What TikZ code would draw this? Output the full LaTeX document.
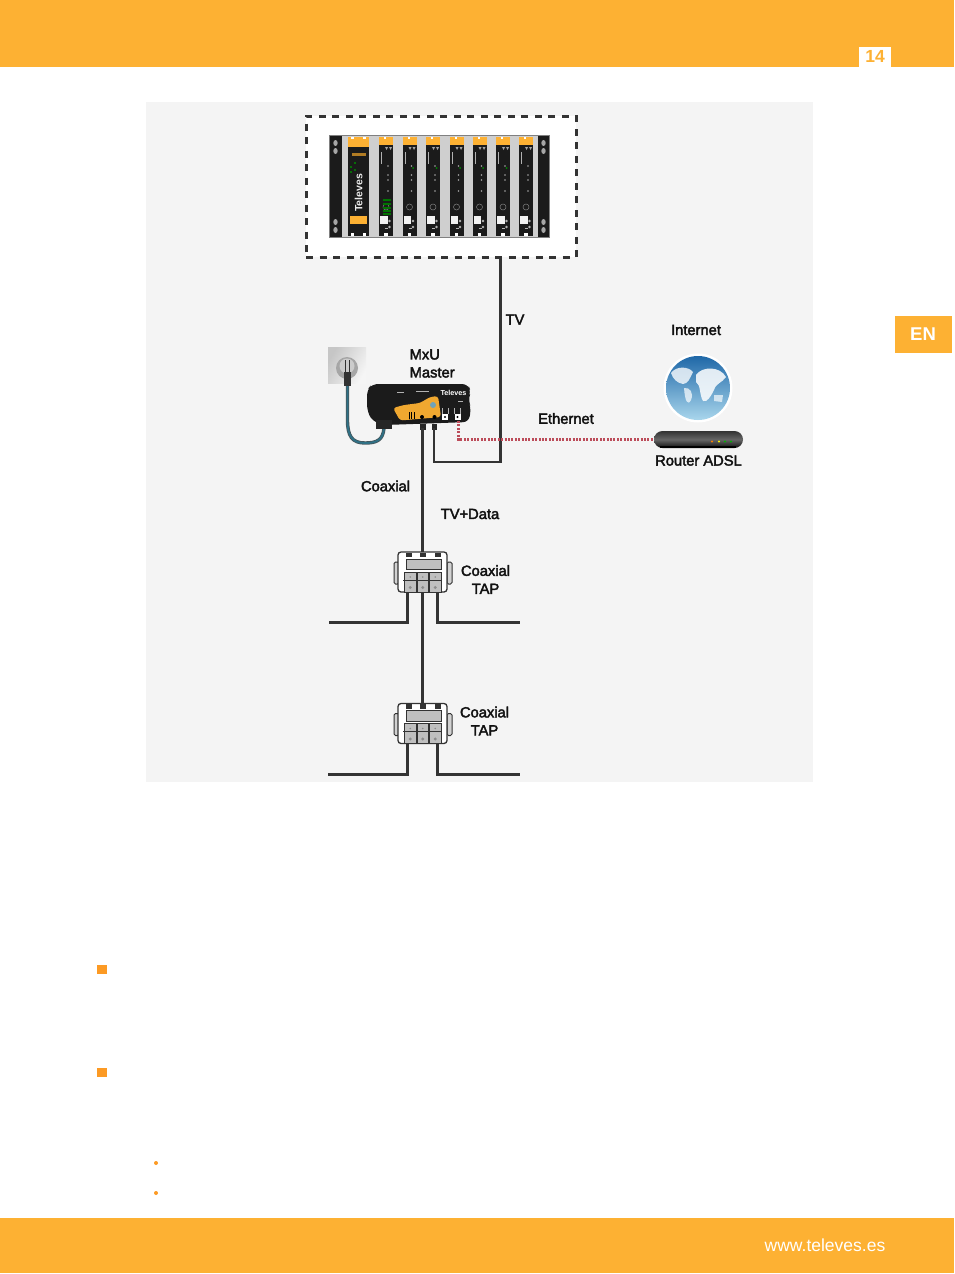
\documentclass[tikz,border=0pt]{standalone}
\usepackage{fontspec}
\setmainfont{Liberation Sans}
\newfontfamily\lab[FakeBold=2.6]{Liberation Sans}
\usetikzlibrary{shapes.misc,calc}
\definecolor{bar}{HTML}{FDB133}
\definecolor{panel}{HTML}{F4F4F4}
\definecolor{ink}{HTML}{111111}
\definecolor{wire}{HTML}{333333}
\definecolor{modgray}{HTML}{CFCFCF}
\definecolor{rackblack}{HTML}{1B1B1B}
\definecolor{bul}{HTML}{FC9A24}
\definecolor{cablecol}{HTML}{2F7186}
\definecolor{cableedge}{HTML}{45565C}
\definecolor{ethcol}{HTML}{BC4C5A}
\definecolor{seatop}{HTML}{1F68A8}
\definecolor{seamid}{HTML}{5AA5DB}
\definecolor{seabot}{HTML}{A9D6EC}
\tikzset{
  lbl/.style={font=\lab\fontsize{14.7}{16}\selectfont,text=ink,inner sep=0pt,align=center},
  wireline/.style={draw=wire,line width=2.2pt},
  tapbody/.style={draw=wire,line width=1.3pt,fill=white,rounded corners=3pt,minimum width=49pt,minimum height=40pt,inner sep=0pt},
  dashbox/.style={draw=wire,line width=3pt,fill=white,dash pattern=on 7pt off 6.5pt,minimum width=270pt,minimum height=141pt,inner sep=0pt},
}
\begin{document}
\begin{tikzpicture}[x=1pt,y=-1pt]
\useasboundingbox (0,0) rectangle (954,1274);
\fill[white] (0,0) rectangle (954,1274);
% page furniture
\fill[bar] (0,0) rectangle (954,66.5);
\fill[bar] (0,1217.5) rectangle (954,1272.5);
\node[fill=white,text=bar,font=\bfseries\fontsize{17.5}{18}\selectfont,minimum width=32pt,minimum height=20pt,inner sep=0pt] (page) at (875,56.5) {14};
\node[fill=bar,text=white,font=\bfseries\fontsize{18.5}{20}\selectfont,minimum width=57pt,minimum height=37pt,inner sep=0pt] (lang) at (923,334.5) {EN};
\node[anchor=east,text=white,font=\fontsize{17.5}{18}\selectfont,inner sep=0pt] (web) at (885.5,1245) {www.televes.es};
\fill[bul] (97,964.5) rectangle (106.5,974);
\fill[bul] (97,1067.5) rectangle (106.5,1077);
\fill[bul] (156,1163) circle (2pt);
\fill[bul] (156,1193) circle (2pt);
% panel
\fill[panel] (146,102) rectangle (813,781.5);
% headend
\node[dashbox] (head) at (441,186.5) {};
\fill[modgray] (329,135) rectangle (549,237);
\draw[gray,line width=.8pt] (329,135) rectangle (549,237);
\fill[rackblack] (330,135.5) rectangle (342,236.5);
\fill[rackblack] (538,135.5) rectangle (549,236.5);
\foreach \ex in {335.5,543.5}{
  \foreach \ey in {143,151,222,230}{\fill[gray!70] (\ex,\ey) ellipse (2.2pt and 3pt);}
}
% first module
\fill[rackblack] (348,137) rectangle (369,236);
\fill[bar] (348,137) rectangle (369,146.5);
\fill[bar] (350,216) rectangle (367,224);
\fill[white] (351,233) rectangle (354,236);
\fill[white] (363,233) rectangle (366,236);
\fill[white] (351,137) rectangle (354,139);
\fill[white] (363,137) rectangle (366,139);
\fill[bar!70!black] (352,153) rectangle (366,155.5);
\foreach \p in {(351,167),(355,163),(351,172),(355,170)}{\fill[green!55!black] \p circle (1.1pt);}
\node[rotate=90,text=white!85!gray,font=\bfseries\fontsize{10.5}{11}\selectfont,inner sep=0pt] (brand) at (358.5,193) {Televes};
% amplifier modules
\foreach \mx in {379,402.5,426,449.5,472.5,496,519}{
  \fill[rackblack] (\mx,136.5) rectangle ++(14,99.5);
  \fill[bar] (\mx,136.5) rectangle ++(14,8.5);
  \fill[white] (\mx+5,137) rectangle ++(2,1.5);
  \fill[white!90!gray] (\mx+1,216) rectangle ++(7.5,8);
  \fill[white] (\mx+5,233) rectangle ++(3.5,3);
  \draw[gray,line width=.5pt] (\mx+7,207) circle (3pt);
  \foreach \dy in {221,227}{\fill[gray!60] (\mx+10.5,\dy) circle (1.3pt);}
  \foreach \dy in {166,175,180,191}{\fill[gray!70] (\mx+9,\dy) circle (.9pt);}
  \fill[gray!70] (\mx+6,147) -- ++(3,0) -- ++(-1.5,3) -- cycle;
  \fill[gray!70] (\mx+10,147) -- ++(3,0) -- ++(-1.5,3) -- cycle;
  \fill[gray!60] (\mx+2,152) rectangle ++(1,12);
  \fill[gray!60] (\mx+6,228) rectangle ++(3,1);
}
\foreach \mx in {402.5,426,449.5,472.5,496}{\fill[green!55!black] (\mx+10.5,168) circle (1pt);}
\foreach \dy in {199,203,207,210,213}{\fill[green!45!black] (383,\dy) rectangle ++(8,1.6);}
% socket
\node[minimum width=38pt,minimum height=36pt,inner sep=0pt,left color=gray!45,right color=gray!8,shading angle=60] (socket) at (347,365) {};
\fill[gray!70] (347,368) circle (11pt);
\fill[gray!40] (347,366) circle (7.5pt);
\fill[wire] (344.5,360) rectangle (346,372);
\fill[wire] (348.5,360) rectangle (350,372);
\fill[wire] (344,372) rectangle (351,386);
% power cable
\coordinate (plugend) at (347.5,386);
\coordinate (mains) at (384,428);
\draw[draw=cableedge,line width=3.4pt] (plugend) -- (347.5,420) .. controls (347.5,436) and (352,443) .. (365,443) .. controls (377,443) and (383,440) .. (mains);
\draw[draw=cablecol,line width=1.8pt] (plugend) -- (347.5,420) .. controls (347.5,436) and (352,443) .. (365,443) .. controls (377,443) and (383,440) .. (mains);
% MxU master
\fill[rackblack,rounded corners=6pt] (367,390) -- (372,384) -- (468,384) -- (471,392) -- (468,400) -- (471,407) -- (469,422) -- (385,425) -- (372,421) -- (367,410) -- cycle;
\fill[black!85] (376,420) rectangle (392,429);
\node[inner sep=0pt,minimum width=0pt] (master) at (422,404) {};
\fill[bar!95!black,rounded corners=3pt] (393,408) -- (404,405) -- (420,403) -- (430,397) -- (438,396) -- (441,417) -- (400,420.5) -- cycle;
\fill[gray!60!cyan] (433,405) circle (3pt);
\foreach \tx in {408.5,411,413.5}{\fill[black] (\tx,412) rectangle ++(1.3,6.5);}
\foreach \tx in {422,434.5}{\fill[black] (\tx,417) circle (2pt);}
\foreach \tx in {445,457.5}{\fill[white] (\tx-3,414) rectangle ++(6,6);\fill[black] (\tx,417) circle (1.2pt);\draw[white!70!black,line width=.4pt] (\tx-3,414) -- (\tx-3,408);\draw[white!70!black,line width=.4pt] (\tx+3,414) -- (\tx+3,408);}
\node[text=white,font=\bfseries\fontsize{7.2}{8}\selectfont,inner sep=0pt] (mbrand) at (453.5,392.5) {Televes};
\foreach \tx/\ty/\tl in {397/392/7,416/391/13,458/401/5}{\fill[gray!60] (\tx,\ty) rectangle ++(\tl,1);}
\fill[black!85] (419.5,424) rectangle (425.5,430);
\fill[black!85] (431.5,424) rectangle (437,430);
\coordinate (coaxout) at (422.5,428);
\coordinate (tvin) at (434.2,428);
\coordinate (ethport) at (458.5,421);
% taps
\foreach \nm/\cy in {tapA/572,tapB/723.5}{
  \fill[gray!35,draw=wire,line width=1pt,rounded corners=1.5pt] (394,\cy-10) rectangle ++(5,22);
  \fill[gray!35,draw=wire,line width=1pt,rounded corners=1.5pt] (447,\cy-10) rectangle ++(5,22);
  \node[tapbody] (\nm) at (422.5,\cy) {};
  \fill[gray!50,draw=wire,line width=.8pt] (406,\cy-13) rectangle ++(35,10.5);
  \foreach \tx in {404.5,417,429.5}{
    \fill[gray!50,draw=wire,line width=1pt] (\tx,\cy) rectangle ++(11.5,20);
    \fill[gray!90] (\tx+5.7,\cy+15.5) circle (1.6pt);
    \fill[gray!90] (\tx+5.7,\cy+5) circle (.9pt);
  }
  \draw[wire,line width=1.2pt] (403,\cy+8.3) -- (442,\cy+8.3);
  \foreach \tx in {406,420,435}{\fill[wire] (\tx,\cy-19.5) rectangle ++(5.5,4.5);}
  \coordinate (\nm L) at (407.5,\cy+20);
  \coordinate (\nm R) at (437.5,\cy+20);
  \coordinate (\nm T) at (422.5,\cy-20);
  \coordinate (\nm B) at (422.5,\cy+20);
}
\coordinate (endAL) at (329,622.5);
\coordinate (endAR) at (520,622.5);
\coordinate (endBL) at (328,774.5);
\coordinate (endBR) at (520,774.5);
% router and globe
\node[circle,minimum size=69pt,inner sep=0pt,fill=white] (globehalo) at (698,388) {};
\begin{scope}
  \clip (698,388) circle (32pt);
  \shade[top color=seatop,middle color=seamid,bottom color=seabot] (666,356) rectangle (730,420);
  \fill[white,opacity=.78] (671,373) .. controls (676,366) and (688,366) .. (693,372) .. controls (690,378) and (688,384) .. (683,384) .. controls (677,383) and (673,379) .. (671,373) -- cycle;
  \fill[white,opacity=.7] (684,388) .. controls (690,387) and (694,393) .. (691,400) .. controls (688,406) and (685,402) .. (684,388) -- cycle;
  \fill[white,opacity=.85] (696,375) .. controls (702,366) and (720,366) .. (726,377) .. controls (722,383) and (716,383) .. (714,390) .. controls (711,396) and (707,403) .. (703,401) .. controls (699,394) and (701,385) .. (696,382) -- cycle;
  \fill[white,opacity=.65] (714,395) -- (723,395) -- (722,402) -- (714,401) -- cycle;
\end{scope}
\node[rounded rectangle,minimum width=89pt,minimum height=17pt,inner sep=0pt,top color=black!80,bottom color=black!95,middle color=black!60] (router) at (698.5,439.5) {};
\fill[black] (660,445.5) rectangle (736,448);
\foreach \rx/\rc in {712/orange,719/yellow,725/green!70!black,731/green!70!black}{\fill[\rc] (\rx,441.5) circle (1.2pt);}
% connectors
\draw[wireline] (head.south -| 500.5,0) -- (500.5,462) -- (434.2,462) -- (tvin);
\draw[wireline] (coaxout) -- (tapAT);
\draw[wireline] (tapAB) -- (tapBT);
\draw[wireline] (tapAL) |- (endAL);
\draw[wireline] (tapAR) |- (endAR);
\draw[wireline] (tapBL) |- (endBL);
\draw[wireline] (tapBR) |- (endBR);
\draw[draw=ethcol,line width=2.2pt,dash pattern=on 2pt off 1.4pt] (ethport) |- (router.west);
% labels
\node[lbl] (ltv) at (515,319.5) {TV};
\node[lbl,anchor=west,align=left] (lmxu) at (409.5,363.5) {MxU\\[2pt]Master};
\node[lbl] (linet) at (696,330) {Internet};
\node[lbl] (leth) at (566,418.5) {Ethernet};
\node[lbl] (lrouter) at (698.5,460.5) {Router ADSL};
\node[lbl] (lcoax) at (385.5,486) {Coaxial};
\node[lbl] (ltvd) at (470,514) {TV+Data};
\node[lbl] (ltapa) at (485.5,579.5) {Coaxial\\[2pt]TAP};
\node[lbl] (ltapb) at (484.5,721) {Coaxial\\[2pt]TAP};
\end{tikzpicture}
\end{document}
